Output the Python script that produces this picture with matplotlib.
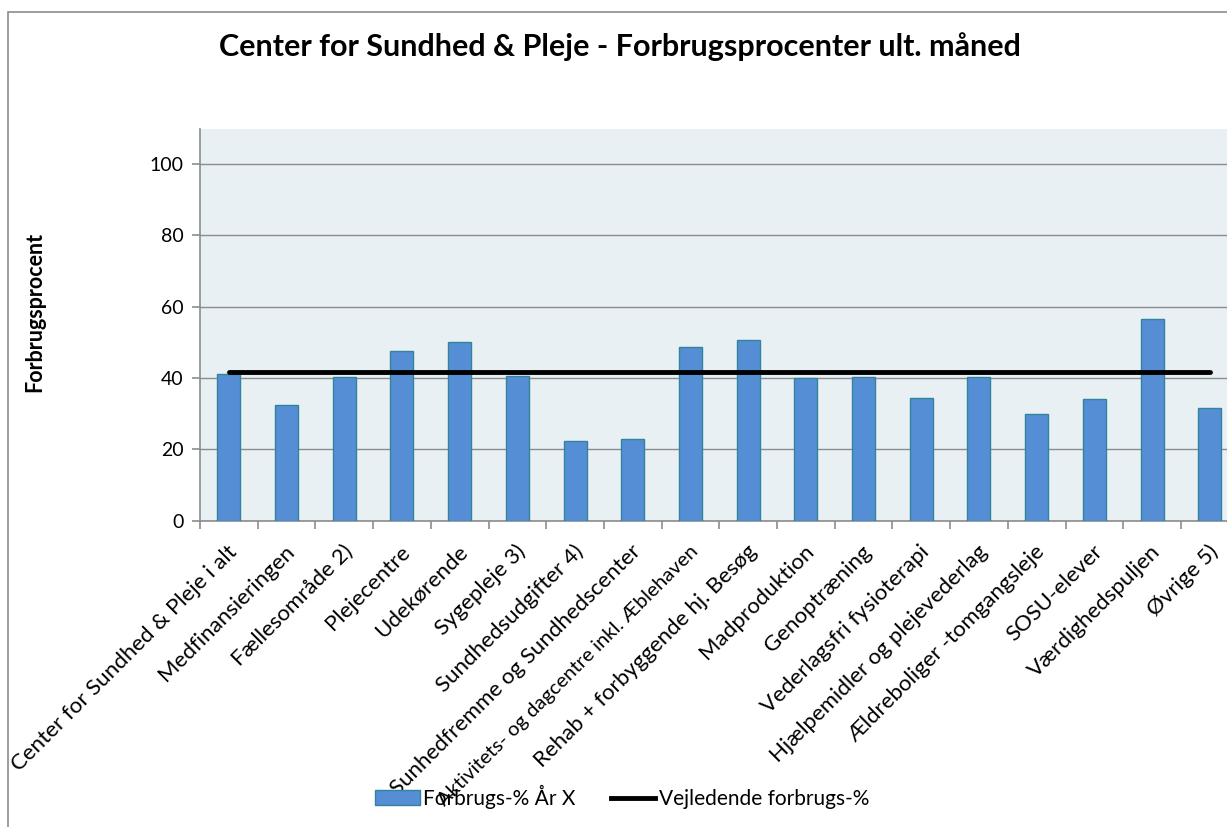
import matplotlib
matplotlib.use("Agg")
import matplotlib.pyplot as plt
from matplotlib.patches import Rectangle, Patch
from matplotlib.lines import Line2D
import matplotlib.transforms as mtransforms

categories = [
    "Center for Sundhed & Pleje i alt", "Medfinansieringen", "Fællesområde 2)",
    "Plejecentre", "Udekørende", "Sygepleje 3)", "Sundhedsudgifter 4)",
    "Sunhedfremme og Sundhedscenter", "Aktivitets- og dagcentre inkl. Æblehaven",
    "Rehab + forbyggende hj. Besøg", "Madproduktion", "Genoptræning",
    "Vederlagsfri fysioterapi", "Hjælpemidler og plejevederlag",
    "Ældreboliger -tomgangsleje", "SOSU-elever", "Værdighedspuljen", "Øvrige 5)",
]
forbrug = [41.0, 32.4, 40.3, 47.7, 50.2, 40.5, 22.2, 23.0, 48.8,
           50.7, 39.9, 40.3, 34.5, 40.2, 30.0, 34.1, 56.6, 31.7]
vejledende = [41.7] * len(categories)
yticks = [0, 20, 40, 60, 80, 100]

title = "Center for Sundhed & Pleje - Forbrugsprocenter ult. måned"
ylabel = "Forbrugsprocent"
legend_bar = "Forbrugs-% År X"
legend_line = "Vejledende forbrugs-%"

plt.rcParams['font.family'] = ['Lato', 'DejaVu Sans']

W, H = 1227, 827
fig = plt.figure(figsize=(W / 100, H / 100), dpi=100)

# outer chart border
fig.patches.append(Rectangle((8 / W, -0.01), 1.05, (827 - 12) / H + 0.01,
                             transform=fig.transFigure, fill=False,
                             edgecolor='#8c8c8c', linewidth=1.2))

ax = fig.add_axes([200 / W, (827 - 520.5) / H, 1038.6 / W, 392 / H])
ax.set_facecolor('#e8f0f4')

x = list(range(len(categories)))
ax.bar(x, forbrug, width=0.40, color='#558ed5', edgecolor='#31849b',
       linewidth=1.0, zorder=3)
ax.plot(x, vejledende, color='black', linewidth=3.5, solid_capstyle='round',
        zorder=4)

ax.set_xlim(-0.5, len(categories) - 0.5)
ax.set_ylim(0, 110)
ax.set_yticks(yticks)
ax.yaxis.grid(True, color='#8c8c8c', linewidth=1.0, zorder=0)
ax.set_axisbelow(True)

for s in ['top', 'right']:
    ax.spines[s].set_visible(False)
for s in ['left', 'bottom']:
    ax.spines[s].set_color('#8c8c8c')
    ax.spines[s].set_linewidth(1.2)

ax.set_xticks(x)
ax.set_xticks([i - 0.5 for i in range(len(categories) + 1)], minor=True)
ax.tick_params(axis='x', which='major', length=0, pad=0)
ax.tick_params(axis='x', which='minor', length=6, color='#8c8c8c', width=1.2)
ax.tick_params(axis='y', length=6, color='#8c8c8c', width=1.2, labelsize=14,
               pad=6)
ax.set_xticklabels(categories, rotation=45, ha='right', va='center',
                   rotation_mode='anchor', fontsize=16)
off = mtransforms.ScaledTranslation(5 / 100, -28 / 100, fig.dpi_scale_trans)
for lab in ax.get_xticklabels():
    lab.set_transform(lab.get_transform() + off)
    if len(lab.get_text()) > 35:
        lab.set_fontsize(14.6)

fig.text(35 / W, 1 - 312 / H, ylabel, rotation=90, ha='center', va='center',
         fontsize=15.5, fontweight='bold')
fig.text(620 / W, 1 - 47 / H, title, ha='center', va='center',
         fontsize=22, fontweight='bold')

handles = [Patch(facecolor='#558ed5', edgecolor='#31849b', linewidth=1.0),
           Line2D([], [], color='black', linewidth=3.5)]
fig.legend(handles, [legend_bar, legend_line], loc='center',
           bbox_to_anchor=(622 / W, 1 - 797 / H), ncol=2, frameon=False,
           fontsize=15, handlelength=2.15, handletextpad=0.15,
           columnspacing=1.7)

fig.savefig('out.png', dpi=100)
